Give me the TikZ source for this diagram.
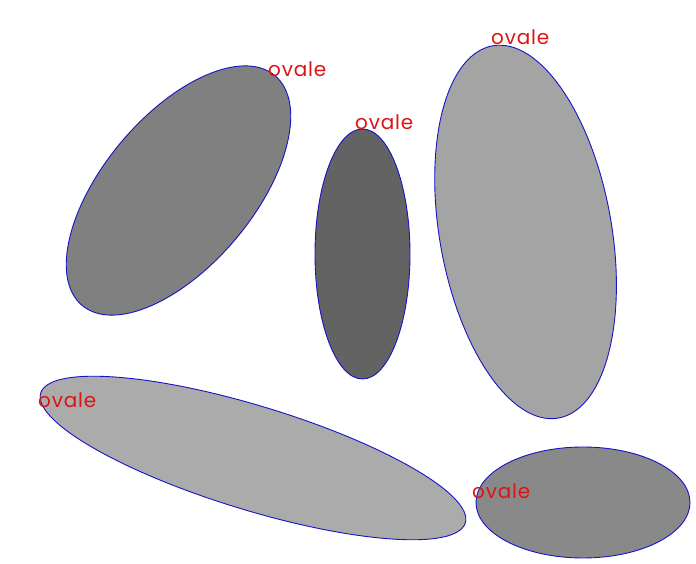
\documentclass[tikz,border=0pt]{standalone}
\usepackage{fontspec}
\setmainfont{Poppins}[LetterSpace=4]
\usepackage{tikz}
\usetikzlibrary{positioning,calc}
\definecolor{OvBlue}{RGB}{20,20,200}
\definecolor{OvRed}{RGB}{220,20,20}
\definecolor{GrayA}{RGB}{128,128,128}
\definecolor{GrayB}{RGB}{99,99,99}
\definecolor{GrayC}{RGB}{164,164,164}
\definecolor{GrayD}{RGB}{171,171,171}
\definecolor{GrayE}{RGB}{137,137,137}
\tikzset{oval/.style={draw=OvBlue,line width=0.9pt}, lab/.style={text=OvRed,anchor=base west,inner sep=0pt,font=\fontsize{20}{24}\selectfont}}

\begin{document}
\begin{tikzpicture}[x=1pt,y=1pt]
\useasboundingbox (0,0) rectangle (696,564);
\coordinate (ca) at (178.5,373.5);
\coordinate (cb) at (362.5,310);
\coordinate (cc) at (525.5,332);
\coordinate (cd) at (253,106);
\coordinate (ce) at (583,61.5);
\draw[oval,fill=GrayA,rotate around={50:(ca)}] (ca) ellipse [x radius=150pt,y radius=75pt];
\draw[oval,fill=GrayB] (cb) ellipse [x radius=47.5pt,y radius=125pt];
\draw[oval,fill=GrayC,rotate around={10:(cc)}] (cc) ellipse [x radius=86pt,y radius=189pt];
\draw[oval,fill=GrayD,rotate around={-17:(cd)}] (cd) ellipse [x radius=222pt,y radius=52pt];
\draw[oval,fill=GrayE] (ce) ellipse [x radius=107pt,y radius=55.5pt];
\node[lab] (la) at (268,487) {ovale};
\node[lab] (lb) at (355,434) {ovale};
\node[lab] (lc) at (491,519) {ovale};
\node[lab] (ld) at (38,156) {ovale};
\node[lab] (le) at (472,65) {ovale};
\end{tikzpicture}
\end{document}
